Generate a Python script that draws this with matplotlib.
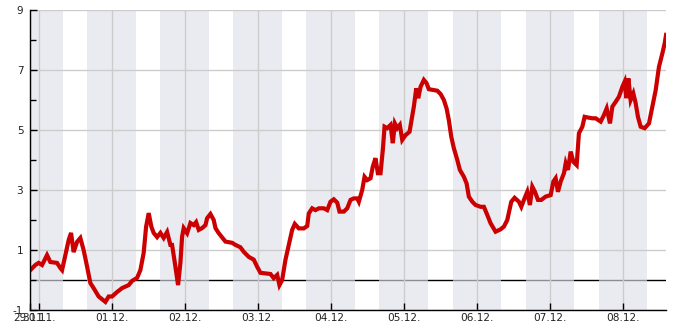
import matplotlib
matplotlib.use('Agg')
import matplotlib.pyplot as plt

plt.rcParams['axes.unicode_minus'] = False

# time in days since 30.11. 00:00, temperature in degC
t_days = [
    -0.114, -0.045, 0.000, 0.047, 0.115, 0.160, 0.252, 0.297, 0.321, 0.366,
    0.411, 0.444, 0.479, 0.526, 0.571, 0.616, 0.663, 0.708, 0.753, 0.822,
    0.914, 0.959, 1.005, 1.074, 1.142, 1.233, 1.279, 1.348, 1.393, 1.438,
    1.471, 1.507, 1.544, 1.575, 1.622, 1.667, 1.712, 1.759, 1.804, 1.827,
    1.863, 1.909, 1.941, 1.964, 1.986, 2.033, 2.078, 2.123, 2.156, 2.192,
    2.238, 2.284, 2.307, 2.352, 2.397, 2.421, 2.466, 2.512, 2.558, 2.649,
    2.695, 2.763, 2.808, 2.877, 2.945, 2.992, 3.037, 3.105, 3.174, 3.219,
    3.266, 3.297, 3.334, 3.379, 3.425, 3.471, 3.507, 3.562, 3.630, 3.677,
    3.699, 3.745, 3.790, 3.836, 3.904, 3.951, 3.996, 4.041, 4.088, 4.119,
    4.178, 4.225, 4.270, 4.315, 4.362, 4.384, 4.430, 4.462, 4.499, 4.544,
    4.575, 4.612, 4.644, 4.681, 4.712, 4.736, 4.773, 4.818, 4.849, 4.877,
    4.910, 4.945, 4.978, 5.023, 5.078, 5.105, 5.137, 5.170, 5.197, 5.229,
    5.274, 5.311, 5.342, 5.411, 5.458, 5.503, 5.548, 5.585, 5.616, 5.649,
    5.685, 5.732, 5.767, 5.822, 5.859, 5.890, 5.937, 5.982, 6.051, 6.096,
    6.142, 6.188, 6.256, 6.325, 6.370, 6.416, 6.471, 6.516, 6.575, 6.608,
    6.644, 6.690, 6.726, 6.759, 6.795, 6.836, 6.882, 6.941, 7.010, 7.047,
    7.078, 7.110, 7.147, 7.192, 7.216, 7.247, 7.284, 7.321, 7.366, 7.397,
    7.444, 7.475, 7.512, 7.581, 7.626, 7.695, 7.740, 7.777, 7.822, 7.855,
    7.900, 7.945, 7.992, 8.023, 8.047, 8.074, 8.105, 8.142, 8.174, 8.205,
    8.242, 8.297, 8.356, 8.403, 8.448, 8.493, 8.540, 8.571, 8.590,
]
temp = [
    0.33, 0.50, 0.57, 0.50, 0.83, 0.60, 0.57, 0.40, 0.33, 0.83,
    1.33, 1.57, 0.93, 1.27, 1.40, 1.00, 0.45, -0.10, -0.27, -0.55,
    -0.73, -0.55, -0.55, -0.40, -0.27, -0.17, -0.03, 0.07, 0.33, 0.90,
    1.77, 2.23, 1.77, 1.57, 1.43, 1.57, 1.40, 1.60, 1.17, 1.17,
    0.60, -0.17, 0.57, 1.44, 1.73, 1.56, 1.90, 1.83, 1.93, 1.67,
    1.73, 1.83, 2.06, 2.20, 2.00, 1.73, 1.56, 1.42, 1.28, 1.24,
    1.17, 1.09, 0.94, 0.77, 0.68, 0.44, 0.24, 0.22, 0.20, 0.06,
    0.17, -0.17, 0.00, 0.67, 1.17, 1.67, 1.87, 1.72, 1.72, 1.80,
    2.22, 2.39, 2.33, 2.39, 2.39, 2.33, 2.61, 2.69, 2.58, 2.28,
    2.28, 2.39, 2.67, 2.72, 2.72, 2.61, 3.00, 3.44, 3.33, 3.39,
    3.78, 4.06, 3.56, 3.56, 4.33, 5.11, 5.06, 5.17, 4.56, 5.22,
    5.06, 5.17, 4.67, 4.83, 4.94, 5.33, 5.78, 6.39, 6.06, 6.44,
    6.67, 6.56, 6.36, 6.33, 6.31, 6.20, 6.00, 5.72, 5.33, 4.78,
    4.39, 4.00, 3.67, 3.44, 3.22, 2.78, 2.61, 2.50, 2.44, 2.44,
    2.17, 1.89, 1.61, 1.69, 1.78, 2.00, 2.61, 2.74, 2.61, 2.44,
    2.67, 2.94, 2.50, 3.11, 2.94, 2.67, 2.67, 2.78, 2.83, 3.28,
    3.39, 2.94, 3.28, 3.56, 3.89, 3.67, 4.28, 3.94, 3.83, 4.89,
    5.11, 5.44, 5.42, 5.39, 5.39, 5.28, 5.50, 5.72, 5.22, 5.78,
    5.94, 6.11, 6.44, 6.61, 6.06, 6.72, 6.00, 6.22, 5.89, 5.44,
    5.11, 5.06, 5.22, 5.78, 6.33, 7.11, 7.56, 7.89, 8.17,
]

day_ticks = [0, 1, 2, 3, 4, 5, 6, 7, 8]
day_labels = ['30.11.', '01.12.', '02.12.', '03.12.', '04.12.',
              '05.12.', '06.12.', '07.12.', '08.12.']
start_label = '29.11.'
x_start, x_end = -0.114, 8.585

fig = plt.figure(figsize=(6.85, 3.3), dpi=100)
ax = fig.add_axes([30.3 / 685, 20 / 330, 635.4 / 685, 300 / 330])

# night shading 16:00 - 08:00
for d in day_ticks:
    ax.axvspan(d - 1 / 3, d + 1 / 3, color='#dfe0ea', alpha=0.63, lw=0, zorder=0.45)

ax.axhline(0, color='black', lw=1.0, zorder=0.3)
ax.plot(t_days, temp, color='#cc0000', lw=3.0, solid_joinstyle='miter', zorder=2)

ax.set_xlim(x_start, x_end)
ax.set_ylim(-1, 9)
ax.set_xticks([x_start] + day_ticks)
ax.set_xticklabels([start_label] + day_labels)
ax.set_yticks([-1, 1, 3, 5, 7, 9])
ax.set_yticks([0, 2, 4, 6, 8], minor=True)

ax.set_axisbelow(True)
ax.grid(True, which='major', color='#cccccc', lw=1.0)

for s in ['top', 'right']:
    ax.spines[s].set_visible(False)
for s in ['left', 'bottom']:
    ax.spines[s].set_color('black')
    ax.spines[s].set_linewidth(1.0)

ax.tick_params(which='both', direction='in', colors='black', labelcolor='#222222',
               labelsize=7.6, width=1)
ax.tick_params(which='major', length=5)
ax.tick_params(which='minor', length=4)
ax.tick_params(axis='y', pad=5)
ax.tick_params(axis='x', pad=2.5)

fig.savefig('out.png', dpi=100)
